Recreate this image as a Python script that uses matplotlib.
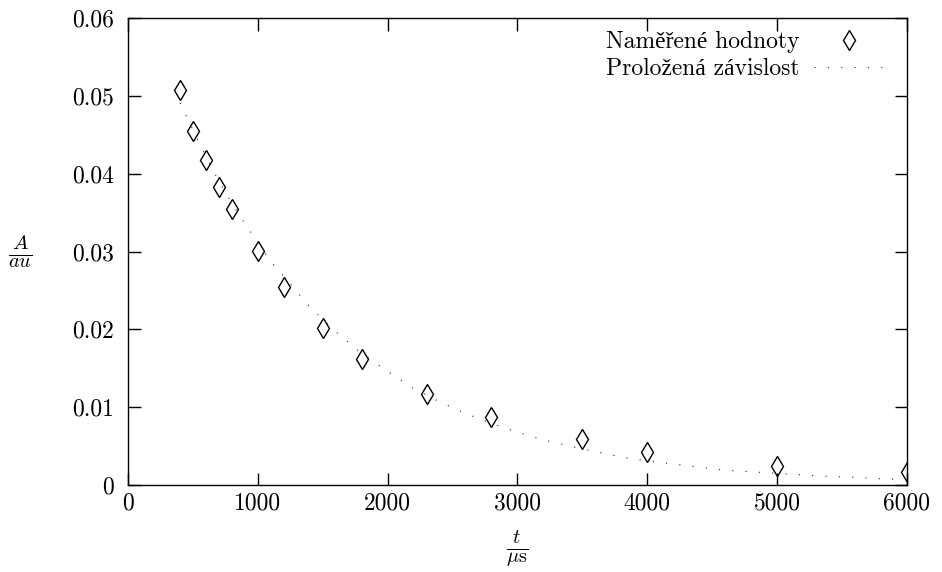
import matplotlib
matplotlib.use('Agg')
from matplotlib import pyplot as plt
from matplotlib.ticker import FuncFormatter

plt.rcParams['font.family'] = ['cmr10', 'Liberation Serif']
plt.rcParams['mathtext.fontset'] = 'cm'
plt.rcParams['axes.formatter.use_mathtext'] = True

# measured values
t_meas = [400, 500, 600, 700, 800, 1000, 1200, 1500, 1800, 2300, 2800, 3500, 4000, 5000, 6000]
a_meas = [0.0508, 0.0455, 0.0418, 0.0383, 0.0355, 0.0301, 0.0255, 0.0202, 0.0162,
          0.0117, 0.0087, 0.0059, 0.0042, 0.0024, 0.0017]

# fitted curve
t_fit = [400, 500, 600, 700, 800, 900, 1000, 1100, 1200, 1400, 1600, 1800, 2000, 2200,
         2400, 2600, 2800, 3000, 3200, 3400, 3600, 3800, 4000, 4200, 4400, 4600, 4800,
         5000, 5200, 5400, 5600, 5800, 6000]
a_fit = [0.0491, 0.0456, 0.0422, 0.0390, 0.0362, 0.0336, 0.0311, 0.0287, 0.0268, 0.0229,
         0.0197, 0.0169, 0.0146, 0.0124, 0.0107, 0.0092, 0.0079, 0.0068, 0.0058, 0.0050,
         0.0043, 0.0036, 0.0031, 0.0027, 0.0023, 0.0019, 0.0017, 0.0015, 0.0013, 0.0011,
         0.0010, 0.0008, 0.0007]

x_ticks = [0, 1000, 2000, 3000, 4000, 5000, 6000]
y_ticks = [0, 0.01, 0.02, 0.03, 0.04, 0.05, 0.06]

fig = plt.figure(figsize=(9.42, 5.72), dpi=100)
ax = fig.add_axes([0.1361, 0.1521, 0.8264, 0.8159])

ax.plot(t_meas, a_meas, linestyle='none', marker='d', markersize=10.5,
        markerfacecolor='none', markeredgecolor='black', markeredgewidth=1.0,
        label='Naměřené hodnoty')
ax.plot(t_fit, a_fit, color='#222222', linewidth=0.8, linestyle=(0, (1, 11)),
        label='Proložená závislost')

ax.set_xlim(0, 6000)
ax.set_ylim(0, 0.06)
ax.set_xticks(x_ticks)
ax.set_yticks(y_ticks)
ax.xaxis.set_major_formatter(FuncFormatter(lambda v, p: '%g' % v))
ax.yaxis.set_major_formatter(FuncFormatter(lambda v, p: '%g' % round(v, 4)))
ax.tick_params(direction='in', length=9, width=1, labelsize=17,
               top=True, right=True)
ax.tick_params(axis='x', pad=5)
ax.tick_params(axis='y', pad=10)
for s in ax.spines.values():
    s.set_linewidth(1)

ax.set_xlabel(r'$\frac{t}{\mu\mathrm{s}}$', fontsize=21, va='center', ha='center')
ax.set_ylabel(r'$\frac{A}{au}$', fontsize=21, rotation=0, va='center', ha='center')
ax.xaxis.set_label_coords(0.5, -0.137)
ax.yaxis.set_label_coords(-0.139, 0.5)

ax.legend(loc='upper right', bbox_to_anchor=(0.972, 0.972), frameon=False,
          markerfirst=False, numpoints=1, fontsize=17, handlelength=3.0,
          handletextpad=0.6, borderpad=0, borderaxespad=0, labelspacing=0.2)

plt.savefig('out.png', dpi=100)
